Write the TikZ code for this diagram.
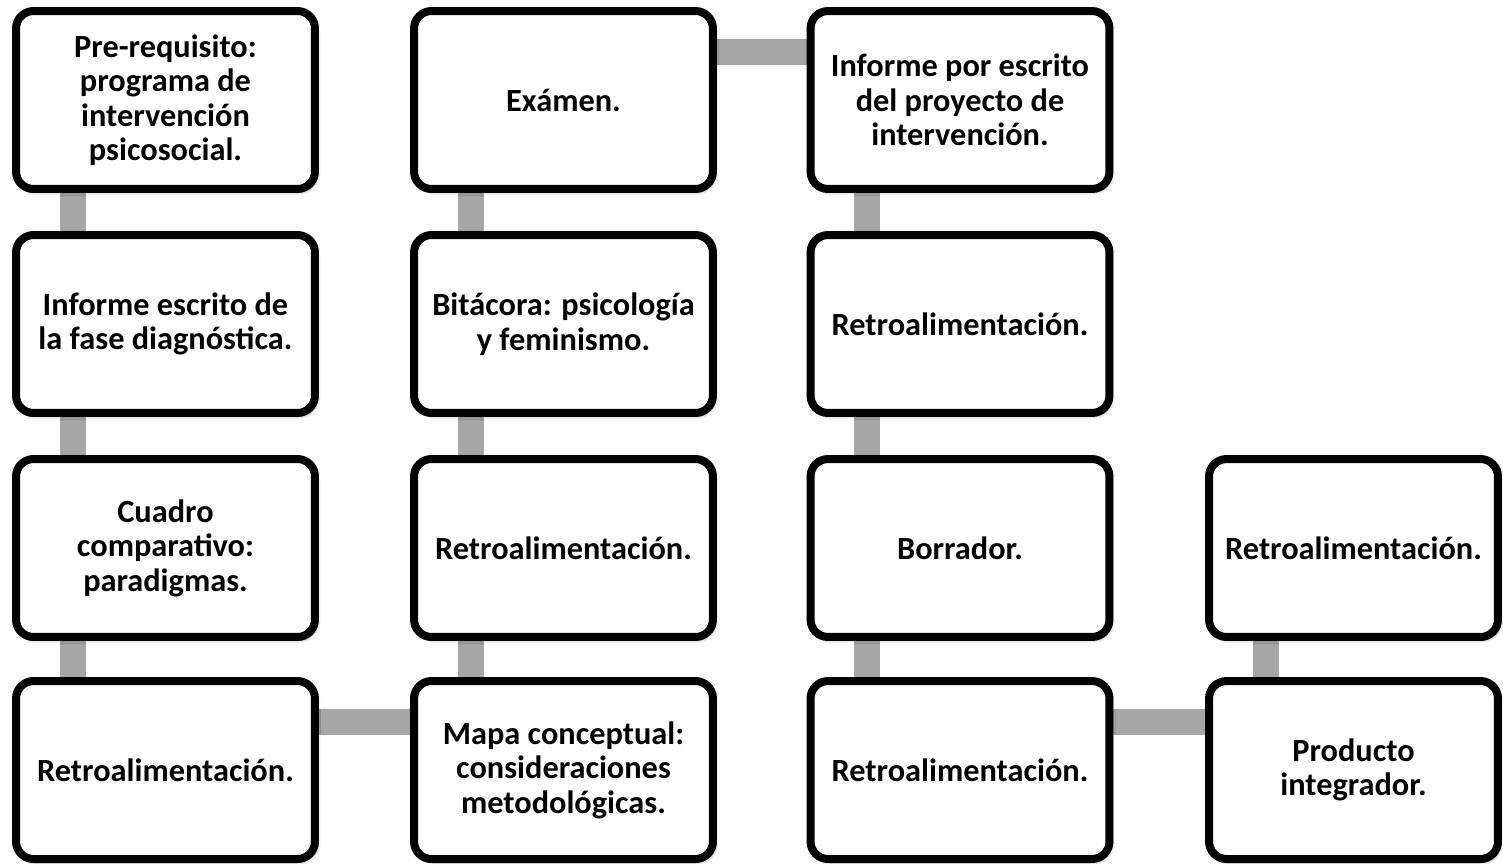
\documentclass[tikz,border=0pt]{standalone}
\usepackage{fontspec}
\setmainfont{Carlito}
\usetikzlibrary{backgrounds, shadows.blur}

\definecolor{linkgray}{HTML}{A6A6A6}

\begin{document}
\begin{tikzpicture}[
    x=0.02cm, y=-0.02cm,
    font=\bfseries\fontsize{18.4}{19.6}\selectfont,
    box/.style={draw=black, line width=0.16cm, rounded corners=0.35cm, fill=white,
        minimum width=5.98cm, minimum height=3.56cm, align=center, inner sep=2pt,
        blur shadow={shadow xshift=1.2pt, shadow yshift=-1.6pt, shadow blur radius=2pt, shadow opacity=45}},
    narrowbox/.style={box, minimum width=5.78cm},
    link/.style={draw=linkgray, line width=0.52cm,
        blur shadow={shadow xshift=0.8pt, shadow yshift=-1pt, shadow blur radius=1.5pt, shadow opacity=30}}
]

\useasboundingbox (0,0) rectangle (1503,863);

% Offsets of the connectors from the box corners
\def\linkX{1.21cm}
\def\linkY{0.9cm}

% ===== Column 1 =====
\node[box] (pre)    at (165.5,100) {Pre-requisito:\\programa de\\intervención\\psicosocial.};
\node[box] (diag)   at (165.5,324) {Informe escrito de\\la fase diagnóstica.};
\node[box] (cuadro) at (165.5,548) {Cuadro\\comparativo:\\paradigmas.};
\node[box] (retroA) at (165.5,770) {Retroalimentación.};

% ===== Column 2 =====
\node[box] (mapa)     at (563.5,770) {Mapa conceptual:\\consideraciones\\metodológicas.};
\node[box] (retroB)   at (563.5,548) {Retroalimentación.};
\node[box] (bitacora) at (563.5,324) {Bitácora: psicología\\y feminismo.};
\node[box] (examen)   at (563.5,100) {Exámen.};

% ===== Column 3 =====
\node[box] (informe)  at (960,100) {Informe por escrito\\del proyecto de\\intervención.};
\node[box] (retroC)   at (960,324) {Retroalimentación.};
\node[box] (borrador) at (960,548) {Borrador.};
\node[box] (retroD)   at (960,770) {Retroalimentación.};

% ===== Column 4 =====
\node[narrowbox] (producto) at (1353.5,770) {Producto\\integrador.};
\node[narrowbox] (retroE)   at (1353.5,548) {Retroalimentación.};

% ===== Connectors =====
\begin{scope}[on background layer]
    % down column 1
    \draw[link] ([xshift=\linkX]pre.south west)    -- ([xshift=\linkX]diag.north west);
    \draw[link] ([xshift=\linkX]diag.south west)   -- ([xshift=\linkX]cuadro.north west);
    \draw[link] ([xshift=\linkX]cuadro.south west) -- ([xshift=\linkX]retroA.north west);
    % across to column 2
    \draw[link] ([yshift=-\linkY]retroA.north east) -- ([yshift=-\linkY]mapa.north west);
    % up column 2
    \draw[link] ([xshift=\linkX]mapa.north west)     -- ([xshift=\linkX]retroB.south west);
    \draw[link] ([xshift=\linkX]retroB.north west)   -- ([xshift=\linkX]bitacora.south west);
    \draw[link] ([xshift=\linkX]bitacora.north west) -- ([xshift=\linkX]examen.south west);
    % across to column 3
    \draw[link] ([yshift=-\linkY]examen.north east) -- ([yshift=-\linkY]informe.north west);
    % down column 3
    \draw[link] ([xshift=\linkX]informe.south west)  -- ([xshift=\linkX]retroC.north west);
    \draw[link] ([xshift=\linkX]retroC.south west)   -- ([xshift=\linkX]borrador.north west);
    \draw[link] ([xshift=\linkX]borrador.south west) -- ([xshift=\linkX]retroD.north west);
    % across to column 4
    \draw[link] ([yshift=-\linkY]retroD.north east) -- ([yshift=-\linkY]producto.north west);
    % up column 4
    \draw[link] ([xshift=\linkX]producto.north west) -- ([xshift=\linkX]retroE.south west);
\end{scope}

\end{tikzpicture}
\end{document}
